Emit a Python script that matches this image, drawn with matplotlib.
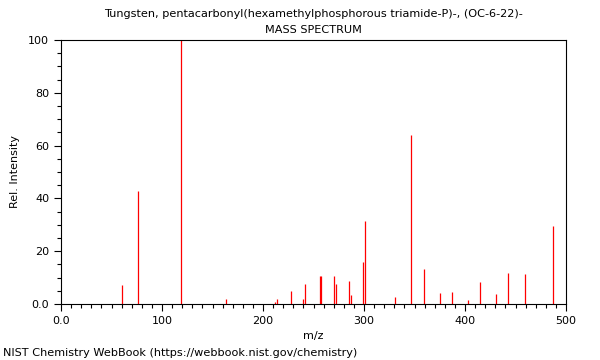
import matplotlib
matplotlib.use("Agg")
import matplotlib.pyplot as plt
from matplotlib.ticker import MultipleLocator, FixedFormatter, FixedLocator

title = "Tungsten, pentacarbonyl(hexamethylphosphorous triamide-P)-, (OC-6-22)-"
subtitle = "MASS SPECTRUM"
footer = "NIST Chemistry WebBook (https://webbook.nist.gov/chemistry)"

# peaks
mz = [60, 76, 119, 163, 212, 214, 228, 240, 242, 256, 257, 270, 272,
      285, 287, 299, 301, 331, 347, 359, 375, 387, 403, 415, 431, 443,
      459, 487]
intensity = [7.2, 42.9, 100, 1.8, 0.8, 1.9, 5.0, 1.9, 7.4, 10.6, 10.6, 10.6, 7.4,
             8.8, 3.3, 15.8, 31.3, 2.5, 64.0, 13.3, 4.3, 4.7, 1.5, 8.2, 3.7, 11.9,
             11.4, 29.5]

x_ticks = [0, 100, 200, 300, 400, 500]
x_labels = ["0.0", "100", "200", "300", "400", "500"]
y_ticks = [0, 20, 40, 60, 80, 100]
y_labels = ["0.0", "20", "40", "60", "80", "100"]

fig = plt.figure(figsize=(6, 3.6), dpi=100)
ax = fig.add_axes([61 / 600, 1 - 304 / 360, 505 / 600, 264 / 360])

ax.vlines(mz, 0, intensity, colors="#ff0000", linewidth=0.9)

ax.set_xlim(0, 500)
ax.set_ylim(0, 100)
ax.xaxis.set_major_locator(FixedLocator(x_ticks))
ax.xaxis.set_major_formatter(FixedFormatter(x_labels))
ax.yaxis.set_major_locator(FixedLocator(y_ticks))
ax.yaxis.set_major_formatter(FixedFormatter(y_labels))
ax.xaxis.set_minor_locator(MultipleLocator(10))
ax.yaxis.set_minor_locator(MultipleLocator(5))
ax.tick_params(which="major", length=5, width=0.8, labelsize=8, colors="black")
ax.tick_params(which="minor", length=3, width=0.8)
for s in ax.spines.values():
    s.set_linewidth(0.8)

ax.set_xlabel("m/z", fontsize=8, labelpad=4)
ax.set_ylabel("Rel. Intensity", fontsize=8, labelpad=6)

# titles are centred over the plot area, not the figure
cx = 313.5 / 600
fig.text(cx, 1 - 14 / 360, title, ha="center", va="center", fontsize=8.1)
fig.text(cx, 1 - 30 / 360, subtitle, ha="center", va="center", fontsize=8.1)
fig.text(3 / 600, 1 - 353 / 360, footer, ha="left", va="center", fontsize=8.1)

fig.savefig("out.png", dpi=100)
